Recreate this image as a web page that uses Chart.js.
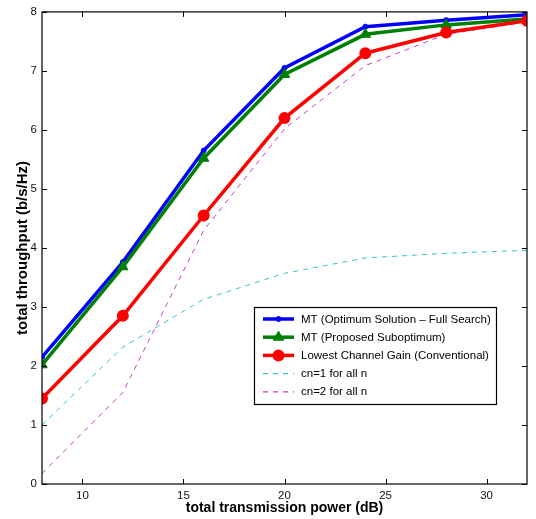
<!DOCTYPE html>
<html>
<head>
<meta charset="utf-8">
<script src="https://cdn.jsdelivr.net/npm/chart.js@4.4.1/dist/chart.umd.min.js"></script>
<style>
  html,body{margin:0;padding:0;background:#fff;}
  #wrap{width:536px;height:519px;position:relative;}
</style>
</head>
<body>
<div id="wrap"><canvas id="c" width="536" height="519"></canvas></div>
<script>
// x: total transmission power (dB)
const powerDb = [8, 12, 16, 20, 24, 28, 32];
// y: total throughput (b/s/Hz)
const mtOptimum    = [2.15, 3.76, 5.65, 7.05, 7.75, 7.86, 7.95];
const mtSubopt     = [2.02, 3.68, 5.52, 6.94, 7.62, 7.78, 7.88];
const lowestGain   = [1.45, 2.85, 4.55, 6.20, 7.30, 7.65, 7.85];
const cnOne        = [1.00, 2.32, 3.13, 3.57, 3.83, 3.91, 3.96];
const cnTwo        = [0.18, 1.55, 4.30, 6.02, 7.09, 7.62, 7.83];

const xTicks = [10, 15, 20, 25, 30];
const yTicks = [0, 1, 2, 3, 4, 5, 6, 7, 8];

const FONT = "'Liberation Sans', Arial, Helvetica, sans-serif";
const pts = ys => powerDb.map((x,i)=>({x, y: ys[i]}));

// box + inward ticks like a matlab axes
const axesBox = {
  id:'axesBox',
  afterDatasetsDraw(chart){
    const {ctx, chartArea:a, scales:{x, y}} = chart;
    ctx.save();
    ctx.strokeStyle='#000'; ctx.lineWidth=1.2;
    ctx.strokeRect(a.left, a.top, a.right-a.left, a.bottom-a.top);
    ctx.lineWidth=1;
    ctx.beginPath();
    xTicks.forEach(t=>{
      const px=Math.round(x.getPixelForValue(t))+0.5;
      ctx.moveTo(px,a.bottom); ctx.lineTo(px,a.bottom-5);
      ctx.moveTo(px,a.top); ctx.lineTo(px,a.top+5);
    });
    yTicks.forEach(t=>{
      const py=Math.round(y.getPixelForValue(t))+0.5;
      ctx.moveTo(a.left,py); ctx.lineTo(a.left+5,py);
      ctx.moveTo(a.right,py); ctx.lineTo(a.right-5,py);
    });
    ctx.stroke();
    ctx.restore();
  }
};

// legend box drawn inside the plot
const boxLegend = {
  id:'boxLegend',
  afterDraw(chart){
    const ctx=chart.ctx;
    const L=254, T=307, W=242, H=97, row=18.2;
    ctx.save();
    ctx.fillStyle='#fff'; ctx.fillRect(L,T,W,H);
    ctx.strokeStyle='#000'; ctx.lineWidth=1.2; ctx.strokeRect(L+0.5,T+0.5,W,H);
    ctx.font='11.5px '+FONT; ctx.textBaseline='middle';
    chart.data.datasets.forEach((ds,i)=>{
      const yy=T+12+i*row, cx=278.5;
      ctx.strokeStyle=ds.borderColor; ctx.lineWidth=ds.borderWidth>1?ds.borderWidth:1.3;
      ctx.setLineDash(ds.borderDash||[]);
      ctx.beginPath(); ctx.moveTo(263,yy); ctx.lineTo(294,yy); ctx.stroke();
      ctx.setLineDash([]);
      if(ds.pointRadius>0){
        const r=ds.pointRadius;
        ctx.fillStyle=ds.pointBackgroundColor; ctx.strokeStyle=ds.borderColor;
        ctx.lineWidth=ds.pointBorderWidth||1;
        ctx.beginPath();
        if(ds.pointStyle==='triangle'){
          ctx.moveTo(cx,yy-r); ctx.lineTo(cx+r*0.87,yy+r*0.5); ctx.lineTo(cx-r*0.87,yy+r*0.5); ctx.closePath();
        } else {
          ctx.arc(cx,yy,r,0,Math.PI*2);
        }
        ctx.fill(); ctx.stroke();
      }
      ctx.fillStyle='#000';
      ctx.fillText(ds.label, 301, yy+0.5);
    });
    ctx.restore();
  }
};

new Chart(document.getElementById('c'), {
  type:'line',
  data:{datasets:[
    {label:'MT (Optimum Solution \u2013 Full Search)', data:pts(mtOptimum),
     borderColor:'#0000ff', backgroundColor:'#0000ff', pointBackgroundColor:'#0000ff',
     borderWidth:3.5, pointStyle:'circle', pointRadius:2.5, pointBorderWidth:1, order:3},
    {label:'MT (Proposed Suboptimum)', data:pts(mtSubopt),
     borderColor:'#008000', backgroundColor:'#008000', pointBackgroundColor:'#008000',
     borderWidth:3.5, pointStyle:'triangle', pointRadius:6, pointBorderWidth:1, order:2},
    {label:'Lowest Channel Gain (Conventional)', data:pts(lowestGain),
     borderColor:'#ff0000', backgroundColor:'#ff0000', pointBackgroundColor:'#ff0000',
     borderWidth:3.5, pointStyle:'circle', pointRadius:5, pointBorderWidth:2, order:1},
    {label:'cn=1 for all n', data:pts(cnOne),
     borderColor:'#2fc6c6', borderWidth:1, borderDash:[5,5], pointRadius:0, order:5},
    {label:'cn=2 for all n', data:pts(cnTwo),
     borderColor:'#c63cc6', borderWidth:1, borderDash:[5,5], pointRadius:0, order:4}
  ]},
  options:{
    responsive:false, animation:false,
    layout:{padding:{top:8,right:9,left:0,bottom:0}},
    plugins:{legend:{display:false}, tooltip:{enabled:false}},
    scales:{
      x:{type:'linear', min:8, max:32,
         afterBuildTicks:s=>{s.ticks=xTicks.map(v=>({value:v}));},
         afterFit:s=>{s.height=35;},
         grid:{display:false, drawTicks:false}, border:{display:false},
         ticks:{color:'#111', font:{family:FONT,size:11.5}, padding:5, maxRotation:0},
         title:{display:true, text:'total transmission power (dB)', color:'#000',
                font:{family:FONT,size:14,weight:'bold'}, padding:{top:0,bottom:2}}},
      y:{type:'linear', min:0, max:8,
         afterBuildTicks:s=>{s.ticks=yTicks.map(v=>({value:v}));},
         afterFit:s=>{s.width=42;},
         grid:{display:false, drawTicks:false}, border:{display:false},
         ticks:{color:'#111', font:{family:FONT,size:11.5}, padding:5},
         title:{display:true, text:'total throughput (b/s/Hz)', color:'#000',
                font:{family:FONT,size:15,weight:'bold'}, padding:{top:14,bottom:0}}}
    }
  },
  plugins:[axesBox, boxLegend]
});
</script>
</body>
</html>
